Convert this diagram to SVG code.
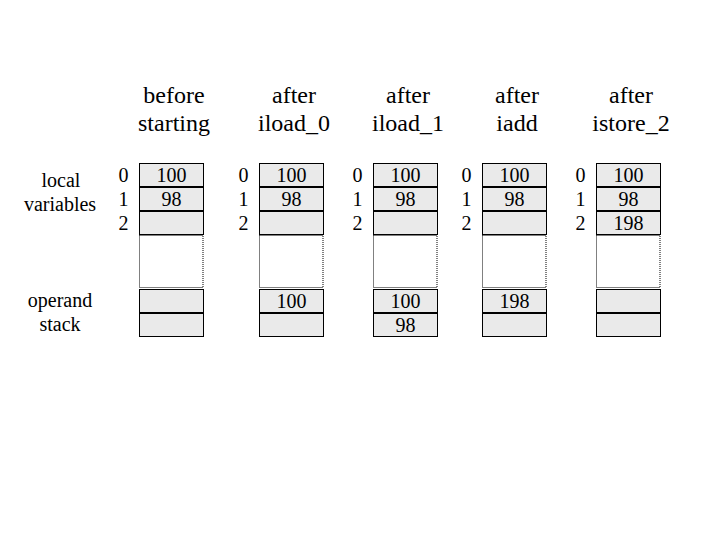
<svg xmlns="http://www.w3.org/2000/svg" width="720" height="540" viewBox="0 0 720 540">
<style>
text{font-family:"Liberation Serif","Times New Roman",serif;fill:#000;text-anchor:middle}
.h{font-size:24px}
.l{font-size:20px}
.c{fill:#eaeaea;stroke:#000;stroke-width:1}
.d{fill:#fff;stroke:#000;stroke-width:1;stroke-dasharray:1,1}
</style>
<rect width="720" height="540" fill="#fff"/>
<defs>
<g id="frame">
<rect class="c" x="0.5" y="163.5" width="64" height="23"/>
<rect class="c" x="0.5" y="187.5" width="64" height="23"/>
<rect class="c" x="0.5" y="211.5" width="64" height="23"/>
<rect class="d" x="0.5" y="235.5" width="63.5" height="52"/>
<rect class="c" x="0.5" y="289.5" width="64" height="23"/>
<rect class="c" x="0.5" y="313.5" width="64" height="23"/>
<text class="l" x="-15.5" y="182">0</text>
<text class="l" x="-15.5" y="206">1</text>
<text class="l" x="-15.5" y="230">2</text>
</g>
</defs>
<g id="labels">
<text class="l" x="61" y="187">local</text>
<text class="l" x="60" y="211">variables</text>
<text class="l" x="60" y="307">operand</text>
<text class="l" x="60" y="331">stack</text>
</g>
<g id="col-before-starting" transform="translate(139,0)">
<use href="#frame"/>
<text class="h" x="35" y="103">before</text>
<text class="h" x="35" y="131">starting</text>
<text class="l" x="32.5" y="182">100</text>
<text class="l" x="32.5" y="206">98</text>
</g>
<g id="col-after-iload_0" transform="translate(259,0)">
<use href="#frame"/>
<text class="h" x="35" y="103">after</text>
<text class="h" x="35" y="131">iload_0</text>
<text class="l" x="32.5" y="182">100</text>
<text class="l" x="32.5" y="206">98</text>
<text class="l" x="32.5" y="308">100</text>
</g>
<g id="col-after-iload_1" transform="translate(373,0)">
<use href="#frame"/>
<text class="h" x="35" y="103">after</text>
<text class="h" x="35" y="131">iload_1</text>
<text class="l" x="32.5" y="182">100</text>
<text class="l" x="32.5" y="206">98</text>
<text class="l" x="32.5" y="308">100</text>
<text class="l" x="32.5" y="332">98</text>
</g>
<g id="col-after-iadd" transform="translate(482,0)">
<use href="#frame"/>
<text class="h" x="35" y="103">after</text>
<text class="h" x="35" y="131">iadd</text>
<text class="l" x="32.5" y="182">100</text>
<text class="l" x="32.5" y="206">98</text>
<text class="l" x="32.5" y="308">198</text>
</g>
<g id="col-after-istore_2" transform="translate(596,0)">
<use href="#frame"/>
<text class="h" x="35" y="103">after</text>
<text class="h" x="35" y="131">istore_2</text>
<text class="l" x="32.5" y="182">100</text>
<text class="l" x="32.5" y="206">98</text>
<text class="l" x="32.5" y="230">198</text>
</g>
<g id="connectors"/>
</svg>
